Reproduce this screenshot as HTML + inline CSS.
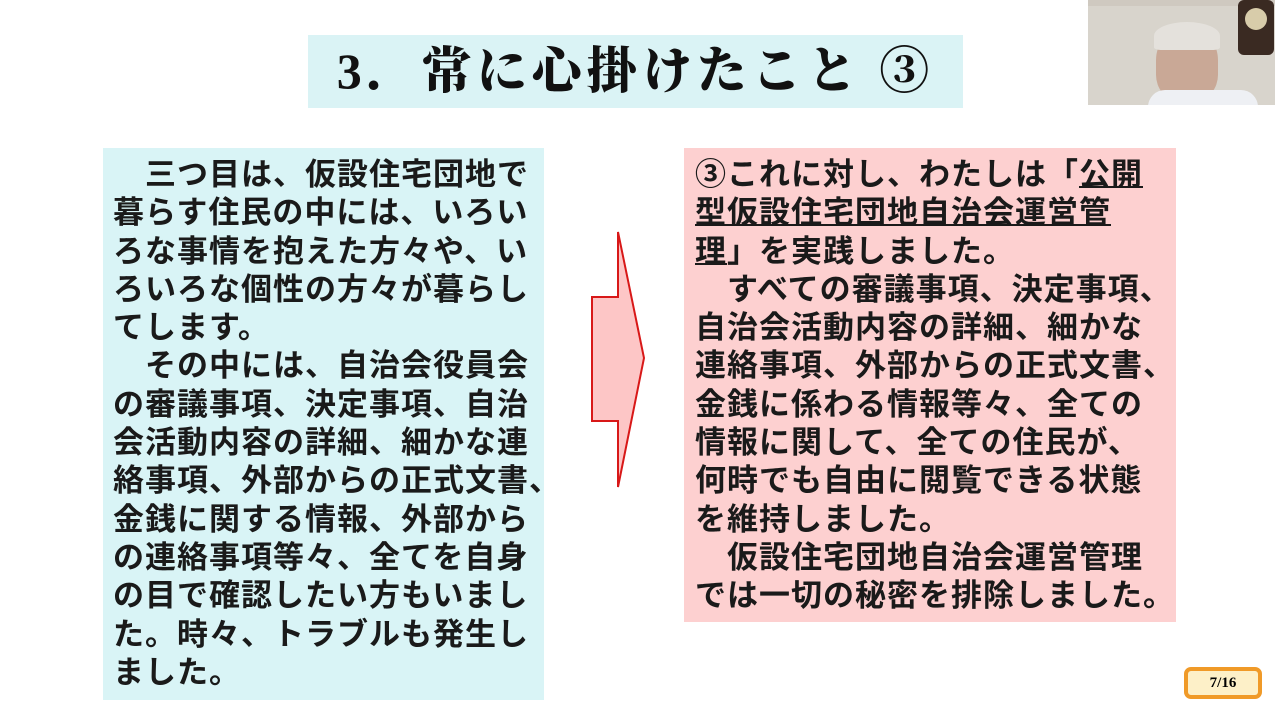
<!DOCTYPE html>
<html><head><meta charset="utf-8"><style>
body{margin:0;width:1280px;height:720px;background:#fff;position:relative;overflow:hidden;font-family:"Liberation Sans","Noto Sans CJK JP",sans-serif}
.t{position:absolute;left:308px;top:35px;width:655px;height:73px;background:#daf3f5;text-align:center;font:900 50px/73px "Liberation Serif","Noto Serif CJK JP",serif;letter-spacing:5px;color:#111}
.box{position:absolute;font-size:31px;letter-spacing:1px;line-height:38.3px;font-weight:700;color:#1a1a1a;white-space:nowrap;font-family:"Liberation Sans","Noto Sans CJK JP",sans-serif}
.l{left:103px;top:148px;width:441px;height:552px;background:#d9f4f6;padding:8px 0 0 10px;box-sizing:border-box}
.r{left:684px;top:148px;width:492px;height:474px;background:#fdd0d0;padding:8px 0 0 11px;box-sizing:border-box}
u{text-decoration-thickness:2px}
.cam{position:absolute;left:1088px;top:0;width:187px;height:105px;background:#d8d4cc;overflow:hidden}
.pg{position:absolute;left:1184px;top:667px;width:78px;height:32px;box-sizing:border-box;border:4px solid #f09a28;border-radius:7px;background:#fdf0c8;text-align:center;font:700 15px/24px "Liberation Serif",serif}
</style></head><body>
<div class="t">3．常に心掛けたこと ③</div>
<div class="box l">　三つ目は、仮設住宅団地で<br>暮らす住民の中には、いろい<br>ろな事情を抱えた方々や、い<br>ろいろな個性の方々が暮らし<br>てします。<br>　その中には、自治会役員会<br>の審議事項、決定事項、自治<br>会活動内容の詳細、細かな連<br>絡事項、外部からの正式文書、<br>金銭に関する情報、外部から<br>の連絡事項等々、全てを自身<br>の目で確認したい方もいまし<br>た。時々、トラブルも発生し<br>ました。</div>
<svg style="position:absolute;left:0;top:0" width="1280" height="720"><polygon points="592,297 618,297 618,232 644,358 618,487 618,421 592,421" fill="#fdc6c6" stroke="#d81818" stroke-width="2"/></svg>
<div class="box r">③これに対し、わたしは「<u>公開</u><br><u>型仮設住宅団地自治会運営管</u><br><u>理</u>」を実践しました。<br>　すべての審議事項、決定事項、<br>自治会活動内容の詳細、細かな<br>連絡事項、外部からの正式文書、<br>金銭に係わる情報等々、全ての<br>情報に関して、全ての住民が、<br>何時でも自由に閲覧できる状態<br>を維持しました。<br>　仮設住宅団地自治会運営管理<br>では一切の秘密を排除しました。</div>
<div class="cam">
<div style="position:absolute;left:0;top:0;width:187px;height:6px;background:#cfc9c0"></div>
<div style="position:absolute;left:150px;top:0;width:36px;height:55px;background:#3a2a22;border-radius:6px"></div>
<div style="position:absolute;left:157px;top:8px;width:22px;height:22px;background:#d8ccaa;border-radius:50%"></div>
<div style="position:absolute;left:68px;top:28px;width:62px;height:72px;background:#c9a896;border-radius:45% 45% 35% 35%"></div>
<div style="position:absolute;left:66px;top:22px;width:66px;height:28px;background:#e4e1dc;border-radius:50% 50% 10% 10%"></div>
<div style="position:absolute;left:60px;top:90px;width:110px;height:17px;background:#eef0f4;border-radius:20px 20px 0 0"></div>
</div>
<div class="pg">7/16</div>
</body></html>
